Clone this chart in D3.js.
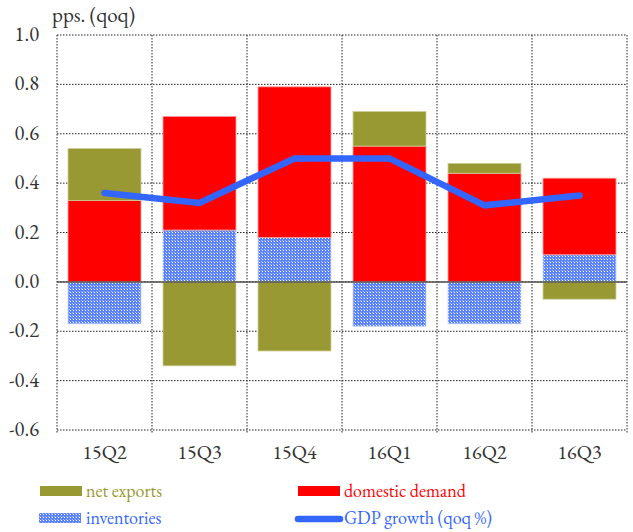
<!DOCTYPE html>
<html><head><meta charset="utf-8">
<script src="https://cdn.jsdelivr.net/npm/d3@7"></script>
<style>body{margin:0;background:#fff}svg{display:block}</style>
</head><body>
<script>
const categories = ["15Q2","15Q3","15Q4","16Q1","16Q2","16Q3"];
const inventories = [-0.17, 0.21, 0.18, -0.18, -0.17, 0.11];
const domesticDemand = [0.33, 0.46, 0.61, 0.55, 0.44, 0.31];
const netExports = [0.21, -0.34, -0.28, 0.14, 0.04, -0.07];
const gdpGrowth = [0.36, 0.32, 0.50, 0.50, 0.31, 0.35];
const yTicks = [-0.6,-0.4,-0.2,0.0,0.2,0.4,0.6,0.8,1.0];

const FONT="EB Garamond";
const W=633,H=532;
const m={l:57,r:6,t:35,b:102};
const svg=d3.select("body").append("svg").attr("width",W).attr("height",H).attr("font-family",FONT);
const defs=svg.append("defs");
const pat=defs.append("pattern").attr("id","inv").attr("patternUnits","userSpaceOnUse").attr("width",3).attr("height",3);
pat.append("rect").attr("width",3).attr("height",3).attr("fill","#5a82ff");
pat.append("rect").attr("x",1).attr("y",1).attr("width",1).attr("height",1).attr("fill","#ffffff");
pat.append("rect").attr("x",0).attr("y",0).attr("width",1).attr("height",1).attr("fill","#a9bfff");

const x=d3.scaleBand().domain(categories).range([m.l,W-m.r]).paddingInner(0.232).paddingOuter(0.116);
const xb=d3.scaleBand().domain(categories).range([m.l,W-m.r]);
const y=d3.scaleLinear().domain([-0.6,1.0]).range([H-m.b,m.t]);

const g=svg.append("g");
g.selectAll(".hg").data(yTicks).join("line")
 .attr("x1",m.l).attr("x2",W-m.r).attr("y1",d=>y(d)).attr("y2",d=>y(d))
 .attr("stroke","#222").attr("stroke-width",1).attr("stroke-dasharray","1.5,1.5");
const vb=categories.map(c=>xb(c)).concat([W-m.r]);
g.selectAll(".vg").data(vb).join("line")
 .attr("x1",d=>d).attr("x2",d=>d).attr("y1",m.t).attr("y2",H-m.b+4)
 .attr("stroke","#222").attr("stroke-width",1).attr("stroke-dasharray","1.5,1.5");

const series=[{name:"inventories",vals:inventories,fill:"url(#inv)",stroke:"#c8d4ff"},
 {name:"domestic",vals:domesticDemand,fill:"#ff0000",stroke:"#ff9a9a"},
 {name:"net",vals:netExports,fill:"#999933",stroke:"#cccc99"}];
const rects=[];
categories.forEach((c,i)=>{
  let pos=0,neg=0;
  series.forEach(s=>{
    const v=s.vals[i];
    let y0,y1;
    if(v>=0){y0=pos;y1=pos+v;pos=y1;}else{y0=neg;y1=neg+v;neg=y1;}
    rects.push({c,y0,y1,s});
  });
});
g.selectAll(".bar").data(rects).join("rect")
 .attr("x",d=>x(d.c)).attr("width",x.bandwidth())
 .attr("y",d=>y(Math.max(d.y0,d.y1))).attr("height",d=>Math.abs(y(d.y0)-y(d.y1)))
 .attr("fill",d=>d.s.fill).attr("stroke",d=>d.s.stroke).attr("stroke-width",0.8);

g.append("line").attr("x1",m.l).attr("x2",W-m.r).attr("y1",y(0)).attr("y2",y(0))
 .attr("stroke","#555").attr("stroke-width",1.5);

const line=d3.line().x((d,i)=>x(categories[i])+x.bandwidth()/2).y(d=>y(d));
g.append("path").datum(gdpGrowth).attr("d",line).attr("fill","none")
 .attr("stroke","#3366ff").attr("stroke-width",6.5).attr("stroke-linecap","round").attr("stroke-linejoin","miter");

g.selectAll(".yl").data(yTicks).join("text")
 .attr("x",39).attr("y",d=>y(d)+6).attr("text-anchor","end").attr("font-size",20.5).attr("fill","#333")
 .attr("font-family",FONT).text(d=>d.toFixed(1));
g.selectAll(".xl").data(categories).join("text")
 .attr("x",d=>xb(d)+xb.bandwidth()/2).attr("y",459).attr("text-anchor","middle").attr("font-size",20).attr("fill","#333")
 .attr("font-family",FONT).text(d=>d);
svg.append("text").attr("x",52).attr("y",22).attr("font-size",21).attr("fill","#333").attr("font-family",FONT).text("pps. (qoq)");

const lg=svg.append("g");
lg.append("rect").attr("x",40).attr("y",486).attr("width",42).attr("height",10).attr("fill","#999933");
lg.append("text").attr("x",86).attr("y",497).attr("font-size",18).attr("font-family",FONT).attr("fill","#999933").text("net exports");
lg.append("rect").attr("x",298).attr("y",486).attr("width",42).attr("height",10).attr("fill","#ff0000");
lg.append("text").attr("x",344).attr("y",497).attr("font-size",18).attr("font-family",FONT).attr("fill","#ff0000").text("domestic demand");
lg.append("rect").attr("x",39).attr("y",513).attr("width",42).attr("height",10).attr("fill","url(#inv)");
lg.append("text").attr("x",86).attr("y",524).attr("font-size",18).attr("font-family",FONT).attr("fill","#3366ff").text("inventories");
lg.append("line").attr("x1",298).attr("x2",340).attr("y1",519).attr("y2",519).attr("stroke","#3366ff").attr("stroke-width",6.5).attr("stroke-linecap","round");
lg.append("text").attr("x",344).attr("y",524).attr("font-size",18).attr("font-family",FONT).attr("fill","#3366ff").text("GDP growth (qoq %)");
</script>
</body></html>
